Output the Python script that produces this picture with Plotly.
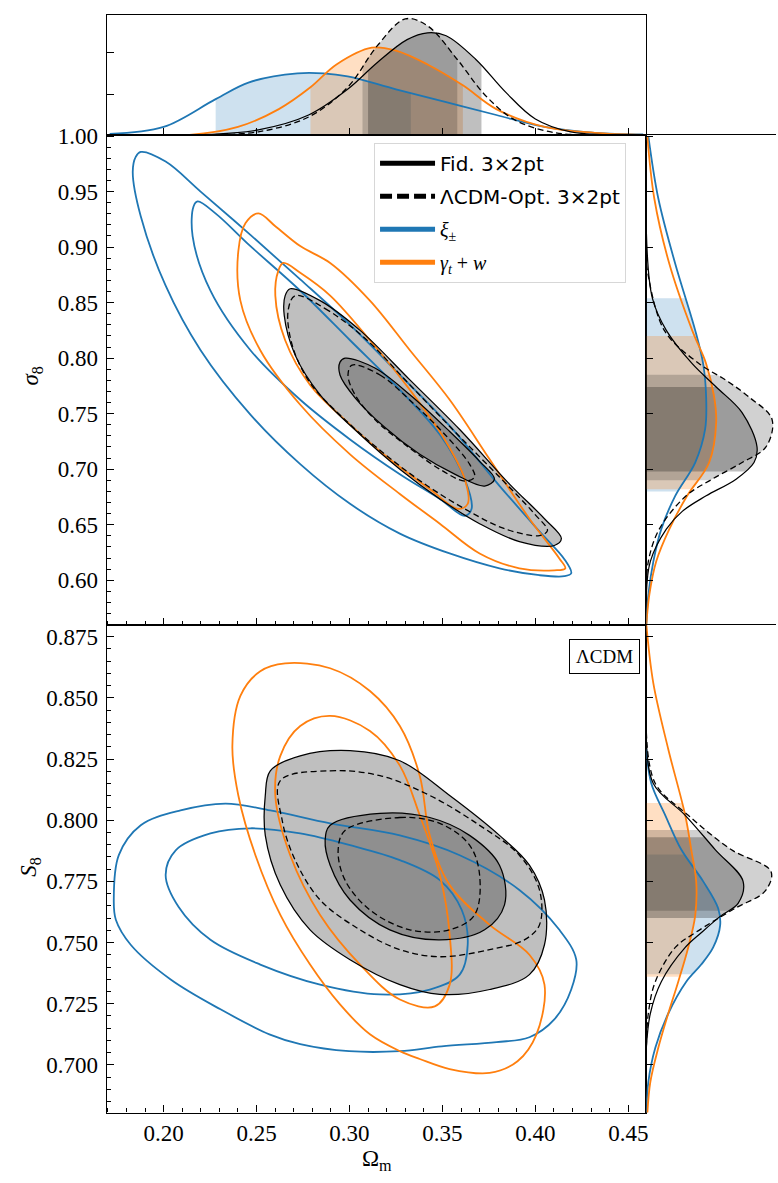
import numpy as np
import plotly.graph_objects as go

# the page shows the figure 8px lower than its own origin -> compensate vertically
OFFY = 8
W, H = 778, 1183 - OFFY

# ---------------- data ----------------
# 1D marginal of Omega_m (density relative to the highest peak)
om_blue_x = [0.171, 0.200, 0.228, 0.246, 0.272, 0.286, 0.299, 0.325, 0.352, 0.379, 0.405, 0.432, 0.458]
om_blue_y = [0.009, 0.068, 0.308, 0.453, 0.530, 0.530, 0.504, 0.393, 0.282, 0.171, 0.068, 0.017, 0.004]
om_orng_x = [0.170, 0.214, 0.240, 0.262, 0.279, 0.293, 0.312, 0.325, 0.342, 0.361, 0.379, 0.405, 0.432, 0.458]
om_orng_y = [0.000, 0.000, 0.068, 0.222, 0.410, 0.607, 0.752, 0.726, 0.607, 0.427, 0.222, 0.068, 0.017, 0.000]
om_fid_x = [0.200, 0.219, 0.251, 0.278, 0.299, 0.315, 0.331, 0.342, 0.352, 0.368, 0.384, 0.400, 0.419, 0.445]
om_fid_y = [0.000, 0.000, 0.043, 0.171, 0.393, 0.624, 0.821, 0.880, 0.855, 0.650, 0.368, 0.137, 0.026, 0.000]
om_opt_x = [0.225, 0.251, 0.278, 0.299, 0.315, 0.330, 0.342, 0.358, 0.373, 0.389, 0.411, 0.432]
om_opt_y = [0.000, 0.026, 0.154, 0.410, 0.769, 1.000, 0.940, 0.650, 0.342, 0.128, 0.017, 0.000]

# 1D marginal of sigma_8
s8m_blue_v = [1.000, 0.944, 0.885, 0.825, 0.795, 0.765, 0.736, 0.706, 0.676, 0.646, 0.617, 0.587, 0.560]
s8m_blue_p = [0.016, 0.095, 0.230, 0.389, 0.452, 0.476, 0.468, 0.389, 0.230, 0.119, 0.056, 0.016, 0.000]
s8m_orng_v = [1.000, 0.944, 0.885, 0.825, 0.795, 0.765, 0.742, 0.706, 0.676, 0.646, 0.617, 0.587, 0.560]
s8m_orng_p = [0.008, 0.063, 0.183, 0.365, 0.476, 0.540, 0.556, 0.500, 0.325, 0.183, 0.079, 0.024, 0.000]
s8m_fid_v = [0.914, 0.854, 0.825, 0.795, 0.774, 0.751, 0.720, 0.706, 0.691, 0.676, 0.662, 0.646, 0.617, 0.587]
s8m_fid_p = [0.000, 0.048, 0.159, 0.365, 0.556, 0.762, 0.881, 0.857, 0.714, 0.476, 0.286, 0.159, 0.032, 0.000]
s8m_opt_v = [0.885, 0.825, 0.795, 0.780, 0.765, 0.745, 0.720, 0.706, 0.691, 0.676, 0.646, 0.617, 0.587]
s8m_opt_p = [0.000, 0.143, 0.421, 0.635, 0.817, 1.000, 0.952, 0.762, 0.524, 0.317, 0.103, 0.016, 0.000]

# 1D marginal of S_8
S8m_orng_v = [0.880, 0.856, 0.829, 0.802, 0.788, 0.775, 0.761, 0.748, 0.734, 0.721, 0.707, 0.693, 0.680]
S8m_orng_p = [0.000, 0.056, 0.176, 0.312, 0.360, 0.400, 0.392, 0.336, 0.256, 0.176, 0.096, 0.032, 0.008]
S8m_blue_v = [0.829, 0.815, 0.802, 0.788, 0.775, 0.764, 0.757, 0.748, 0.741, 0.734, 0.721, 0.707, 0.693, 0.680]
S8m_blue_p = [0.000, 0.040, 0.152, 0.280, 0.456, 0.576, 0.592, 0.536, 0.440, 0.320, 0.176, 0.072, 0.016, 0.000]
S8m_fid_v = [0.836, 0.815, 0.802, 0.788, 0.775, 0.766, 0.761, 0.754, 0.748, 0.734, 0.721, 0.707]
S8m_fid_p = [0.000, 0.056, 0.312, 0.552, 0.776, 0.736, 0.600, 0.440, 0.312, 0.120, 0.032, 0.000]
S8m_opt_v = [0.836, 0.815, 0.802, 0.788, 0.779, 0.771, 0.764, 0.754, 0.748, 0.734, 0.721, 0.707]
S8m_opt_p = [0.000, 0.072, 0.336, 0.680, 1.000, 0.952, 0.712, 0.392, 0.232, 0.072, 0.016, 0.000]

# 68% intervals shaded under the 1D curves
om_int = {"blue": (0.228, 0.333), "orng": (0.279, 0.361), "fid": (0.310, 0.371), "opt": (0.307, 0.358)}
s8_int = {"blue": (0.680, 0.854), "orng": (0.682, 0.820), "fid": (0.698, 0.774), "opt": (0.690, 0.785)}
S8_int = {"blue": (0.737, 0.786), "orng": (0.736, 0.807), "fid": (0.760, 0.793), "opt": (0.763, 0.796)}

# 2D contours: Omega_m vs sigma_8 (outer = 95%, inner = 68%)
sig_blue_out_om = [0.1877, 0.2011, 0.2199, 0.2467, 0.2735, 0.3003, 0.3271, 0.3539, 0.3807, 0.4022, 0.4156, 0.4193,
                   0.4156, 0.4022, 0.3807, 0.3539, 0.3271, 0.3003, 0.2735, 0.2467, 0.2199, 0.2011, 0.1877, 0.1834, 0.1850]
sig_blue_out_s8 = [0.9857, 0.9770, 0.9500, 0.9110, 0.8710, 0.8300, 0.7850, 0.7390, 0.6850, 0.6440, 0.6190, 0.6063,
                   0.6036, 0.6045, 0.6107, 0.6241, 0.6420, 0.6688, 0.7045, 0.7491, 0.8071, 0.8652, 0.9277, 0.9679, 0.9813]
sig_blue_in_om = [0.2183, 0.2279, 0.2467, 0.2735, 0.3003, 0.3271, 0.3486, 0.3620, 0.3657, 0.3620, 0.3486, 0.3271,
                  0.3003, 0.2735, 0.2467, 0.2252, 0.2156, 0.2161]
sig_blue_in_s8 = [0.9411, 0.9304, 0.9009, 0.8607, 0.8161, 0.7714, 0.7312, 0.6911, 0.6643, 0.6580, 0.6732, 0.6955,
                  0.7268, 0.7625, 0.8071, 0.8607, 0.9098, 0.9366]
sig_orng_out_om = [0.2510, 0.2601, 0.2735, 0.2896, 0.3110, 0.3325, 0.3539, 0.3754, 0.3968, 0.4129, 0.4161, 0.4102,
                   0.3914, 0.3700, 0.3486, 0.3271, 0.3003, 0.2735, 0.2520, 0.2413, 0.2402, 0.2440]
sig_orng_out_s8 = [0.9304, 0.9188, 0.9009, 0.8857, 0.8518, 0.8071, 0.7625, 0.7089, 0.6554, 0.6196, 0.6107, 0.6089,
                   0.6107, 0.6241, 0.6509, 0.6777, 0.7134, 0.7580, 0.8071, 0.8518, 0.8964, 0.9214]
sig_orng_in_om = [0.2644, 0.2735, 0.2896, 0.3110, 0.3325, 0.3512, 0.3620, 0.3636, 0.3582, 0.3432, 0.3217, 0.3003,
                  0.2788, 0.2654, 0.2601, 0.2617]
sig_orng_in_s8 = [0.8857, 0.8768, 0.8563, 0.8161, 0.7714, 0.7268, 0.6911, 0.6688, 0.6643, 0.6821, 0.7089, 0.7402,
                  0.7759, 0.8161, 0.8563, 0.8786]
sig_fid_out_om = [0.2681, 0.2842, 0.3057, 0.3325, 0.3593, 0.3861, 0.4049, 0.4140, 0.4102, 0.3914, 0.3700, 0.3486,
                  0.3271, 0.3057, 0.2842, 0.2708, 0.2649, 0.2654]
sig_fid_out_s8 = [0.8625, 0.8518, 0.8250, 0.7804, 0.7357, 0.6866, 0.6554, 0.6375, 0.6313, 0.6348, 0.6509, 0.6732,
                  0.7000, 0.7312, 0.7670, 0.8027, 0.8384, 0.8563]
sig_fid_in_om = [0.2976, 0.3137, 0.3325, 0.3539, 0.3700, 0.3780, 0.3727, 0.3566, 0.3378, 0.3191, 0.3030, 0.2949, 0.2949]
sig_fid_in_s8 = [0.8000, 0.7911, 0.7670, 0.7339, 0.7071, 0.6911, 0.6848, 0.6955, 0.7134, 0.7375, 0.7643, 0.7848, 0.7964]
sig_opt_out_om = [0.2708, 0.2869, 0.3083, 0.3325, 0.3566, 0.3807, 0.3995, 0.4065, 0.4022, 0.3834, 0.3620, 0.3405,
                  0.3191, 0.2976, 0.2788, 0.2692, 0.2670]
sig_opt_out_s8 = [0.8563, 0.8446, 0.8179, 0.7759, 0.7339, 0.6929, 0.6598, 0.6446, 0.6402, 0.6464, 0.6643, 0.6866,
                  0.7134, 0.7446, 0.7777, 0.8116, 0.8429]
sig_opt_in_om = [0.3014, 0.3164, 0.3351, 0.3528, 0.3646, 0.3673, 0.3620, 0.3486, 0.3298, 0.3137, 0.3030, 0.2992]
sig_opt_in_s8 = [0.7937, 0.7848, 0.7580, 0.7286, 0.7045, 0.6929, 0.6893, 0.7000, 0.7223, 0.7446, 0.7670, 0.7848]

# 2D contours: Omega_m vs S_8
S_blue_out_om = [0.1732, 0.1759, 0.1877, 0.2091, 0.2333, 0.2574, 0.2896, 0.3271, 0.3593, 0.3914, 0.4129, 0.4220, 0.4193,
                 0.4102, 0.3968, 0.3791, 0.3496, 0.3271, 0.2998, 0.2735, 0.2569, 0.2306, 0.2038, 0.1823, 0.1743]
S_blue_out_S8 = [0.7674, 0.7857, 0.7979, 0.8040, 0.8068, 0.8040, 0.7987, 0.7938, 0.7857, 0.7715, 0.7552, 0.7430, 0.7308,
                 0.7186, 0.7113, 0.7093, 0.7076, 0.7056, 0.7056, 0.7085, 0.7125, 0.7227, 0.7349, 0.7491, 0.7593]
S_blue_in_om = [0.2011, 0.2065, 0.2252, 0.2467, 0.2735, 0.3003, 0.3271, 0.3486, 0.3604, 0.3636, 0.3593, 0.3432,
                0.3164, 0.2842, 0.2520, 0.2252, 0.2081]
S_blue_in_S8 = [0.7776, 0.7877, 0.7946, 0.7967, 0.7946, 0.7898, 0.7837, 0.7755, 0.7633, 0.7491, 0.7369, 0.7308,
                0.7288, 0.7328, 0.7410, 0.7511, 0.7645]
S_orng_out_om = [0.2654, 0.2896, 0.3110, 0.3271, 0.3378, 0.3432, 0.3539, 0.3754, 0.3968, 0.4049, 0.4006, 0.3904, 0.3754,
                 0.3539, 0.3378, 0.3271, 0.3110, 0.2949, 0.2788, 0.2628, 0.2494, 0.2402, 0.2370, 0.2413, 0.2520]
S_orng_out_S8 = [0.8641, 0.8621, 0.8528, 0.8385, 0.8182, 0.7938, 0.7735, 0.7572, 0.7450, 0.7328, 0.7125, 0.7015, 0.6967,
                 0.6983, 0.7024, 0.7056, 0.7125, 0.7247, 0.7410, 0.7613, 0.7857, 0.8101, 0.8304, 0.8508, 0.8609]
S_orng_in_om = [0.2896, 0.3110, 0.3271, 0.3378, 0.3486, 0.3539, 0.3539, 0.3459, 0.3271, 0.3057, 0.2842, 0.2681,
                0.2601, 0.2628, 0.2735]
S_orng_in_S8 = [0.8426, 0.8365, 0.8223, 0.8020, 0.7776, 0.7532, 0.7328, 0.7239, 0.7267, 0.7410, 0.7613, 0.7857,
                0.8101, 0.8263, 0.8385]
S_fid_out_om = [0.2574, 0.2735, 0.3003, 0.3271, 0.3539, 0.3807, 0.3968, 0.4049, 0.4049, 0.3968, 0.3754, 0.3486,
                0.3271, 0.3003, 0.2788, 0.2628, 0.2547, 0.2547]
S_fid_out_S8 = [0.8202, 0.8263, 0.8284, 0.8243, 0.8101, 0.7938, 0.7816, 0.7674, 0.7491, 0.7369, 0.7308, 0.7288,
                0.7328, 0.7430, 0.7552, 0.7735, 0.7938, 0.8101]
S_fid_in_om = [0.2896, 0.3164, 0.3432, 0.3646, 0.3807, 0.3834, 0.3727, 0.3486, 0.3217, 0.3003, 0.2896, 0.2869]
S_fid_in_S8 = [0.7979, 0.8028, 0.8011, 0.7938, 0.7816, 0.7654, 0.7552, 0.7511, 0.7552, 0.7674, 0.7816, 0.7918]
S_opt_out_om = [0.2628, 0.2896, 0.3164, 0.3432, 0.3700, 0.3914, 0.4022, 0.4022, 0.3941, 0.3754, 0.3486, 0.3271,
                0.3057, 0.2842, 0.2708, 0.2638]
S_opt_out_S8 = [0.8162, 0.8202, 0.8182, 0.8101, 0.7979, 0.7857, 0.7715, 0.7572, 0.7511, 0.7471, 0.7442, 0.7471,
                0.7552, 0.7674, 0.7837, 0.7999]
S_opt_in_om = [0.2976, 0.3271, 0.3486, 0.3646, 0.3700, 0.3673, 0.3539, 0.3325, 0.3110, 0.2976, 0.2939]
S_opt_in_S8 = [0.7958, 0.8011, 0.7987, 0.7898, 0.7776, 0.7613, 0.7552, 0.7552, 0.7633, 0.7755, 0.7877]

legend_names = ["Fid. 3×2pt", "ΛCDM-Opt. 3×2pt",
                '<span style="font-family:Liberation Serif"><i>ξ</i><sub>±</sub></span>',
                '<span style="font-family:Liberation Serif"><i>γ</i><sub><i>t</i></sub> + <i>w</i></span>']

# ---------------- styles ----------------
BLUE = "#1f77b4"
ORNG = "#ff7f0e"
BLK = "#000000"
FILL = {"blue": "rgba(31,119,180,0.22)", "orng": "rgba(255,127,14,0.25)",
        "fid": "rgba(0,0,0,0.25)", "opt": "rgba(0,0,0,0.18)"}
LINE = {"blue": dict(color=BLUE, width=1.8), "orng": dict(color=ORNG, width=1.8),
        "fid": dict(color=BLK, width=1.25), "opt": dict(color=BLK, width=1.3, dash="6px,3.5px")}

fig = go.Figure()


def close(a):
    return list(a) + [a[0]]


def band(v, p, lo, hi):
    v = np.asarray(v, float)
    p = np.asarray(p, float)
    o = np.argsort(v)
    v, p = v[o], p[o]
    m = (v > lo) & (v < hi)
    bv = np.concatenate([[lo], v[m], [hi]])
    bp = np.concatenate([[np.interp(lo, v, p)], p[m], [np.interp(hi, v, p)]])
    return bv, bp


# ---- top marginal (Omega_m) ----
om_sets = {"blue": (om_blue_x, om_blue_y), "orng": (om_orng_x, om_orng_y),
           "fid": (om_fid_x, om_fid_y), "opt": (om_opt_x, om_opt_y)}
for k in ["blue", "orng", "fid", "opt"]:
    bx, by = band(*om_sets[k], *om_int[k])
    fig.add_trace(go.Scatter(x=bx, y=by, mode="lines", fill="tozeroy", fillcolor=FILL[k],
                             line=dict(width=0, shape="spline"), xaxis="x", yaxis="y",
                             showlegend=False, hoverinfo="skip"))
for k in ["blue", "orng", "fid", "opt"]:
    fig.add_trace(go.Scatter(x=om_sets[k][0], y=om_sets[k][1], mode="lines",
                             line=dict(**LINE[k], shape="spline"), xaxis="x", yaxis="y",
                             showlegend=False, hoverinfo="skip"))

# ---- right marginals ----
right_sets = [
    ("x4", "y4", {"blue": (s8m_blue_v, s8m_blue_p), "orng": (s8m_orng_v, s8m_orng_p),
                  "fid": (s8m_fid_v, s8m_fid_p), "opt": (s8m_opt_v, s8m_opt_p)}, s8_int),
    ("x5", "y5", {"blue": (S8m_blue_v, S8m_blue_p), "orng": (S8m_orng_v, S8m_orng_p),
                  "fid": (S8m_fid_v, S8m_fid_p), "opt": (S8m_opt_v, S8m_opt_p)}, S8_int),
]
for xa, ya, sets, ints in right_sets:
    for k in ["blue", "orng", "fid", "opt"]:
        bv, bp = band(*sets[k], *ints[k])
        fig.add_trace(go.Scatter(x=bp, y=bv, mode="lines", fill="tozerox", fillcolor=FILL[k],
                                 line=dict(width=0, shape="spline"), xaxis=xa, yaxis=ya,
                                 showlegend=False, hoverinfo="skip"))
    for k in ["blue", "orng", "fid", "opt"]:
        fig.add_trace(go.Scatter(x=sets[k][1], y=sets[k][0], mode="lines",
                                 line=dict(**LINE[k], shape="spline"), xaxis=xa, yaxis=ya,
                                 showlegend=False, hoverinfo="skip"))

# ---- 2D panels ----
panels = [
    ("x2", "y2", {
        "fid_out": (sig_fid_out_om, sig_fid_out_s8), "fid_in": (sig_fid_in_om, sig_fid_in_s8),
        "blue_out": (sig_blue_out_om, sig_blue_out_s8), "blue_in": (sig_blue_in_om, sig_blue_in_s8),
        "orng_out": (sig_orng_out_om, sig_orng_out_s8), "orng_in": (sig_orng_in_om, sig_orng_in_s8),
        "opt_out": (sig_opt_out_om, sig_opt_out_s8), "opt_in": (sig_opt_in_om, sig_opt_in_s8)}),
    ("x3", "y3", {
        "fid_out": (S_fid_out_om, S_fid_out_S8), "fid_in": (S_fid_in_om, S_fid_in_S8),
        "blue_out": (S_blue_out_om, S_blue_out_S8), "blue_in": (S_blue_in_om, S_blue_in_S8),
        "orng_out": (S_orng_out_om, S_orng_out_S8), "orng_in": (S_orng_in_om, S_orng_in_S8),
        "opt_out": (S_opt_out_om, S_opt_out_S8), "opt_in": (S_opt_in_om, S_opt_in_S8)}),
]
for xa, ya, c in panels:
    for key in ["fid_out", "fid_in"]:
        fig.add_trace(go.Scatter(x=close(c[key][0]), y=close(c[key][1]), mode="lines", fill="toself",
                                 fillcolor="rgba(0,0,0,0.25)", line=dict(width=0, shape="spline"),
                                 xaxis=xa, yaxis=ya, showlegend=False, hoverinfo="skip"))
    for key, st in [("blue_out", "blue"), ("blue_in", "blue"), ("orng_out", "orng"), ("orng_in", "orng"),
                    ("fid_out", "fid"), ("fid_in", "fid"), ("opt_out", "opt"), ("opt_in", "opt")]:
        fig.add_trace(go.Scatter(x=close(c[key][0]), y=close(c[key][1]), mode="lines",
                                 line=dict(**LINE[st], shape="spline"),
                                 xaxis=xa, yaxis=ya, showlegend=False, hoverinfo="skip"))

# ---- legend entries ----
leg_lines = [dict(color=BLK, width=5), dict(color=BLK, width=5, dash="12px,5px"),
             dict(color=BLUE, width=5), dict(color=ORNG, width=5)]
for i, (nm, ln) in enumerate(zip(legend_names, leg_lines)):
    fig.add_trace(go.Scatter(x=[None], y=[None], mode="lines", line=ln, name=nm,
                             xaxis="x2", yaxis="y2", legendgroup=f"g{i}", showlegend=True))


# ---------------- layout ----------------
def fx(p):
    return p / W


def fy(p):
    return 1 - (p - OFFY) / H


XD = [fx(107), fx(648)]
RD = [fx(648), 1.0]
TOPD = [fy(133), fy(12)]
MIDD = [fy(628), fy(133)]
BOTD = [fy(1120), fy(628)]
TF = dict(family="Liberation Serif", size=23, color="black")
OM_RANGE = [0.1694, 0.4597]
SIG_RANGE = [0.5595, 1.0011]
S8_RANGE = [0.6805, 0.8797]

common = dict(showgrid=False, zeroline=False, showline=True, linecolor="black", linewidth=1.2,
              ticks="inside", tickcolor="black", tickwidth=1.2, ticklen=7, tickfont=TF)


def minor(d):
    return dict(ticks="inside", ticklen=4, tickcolor="black", tickwidth=1, dtick=d, tick0=0)


fig.update_layout(
    width=W, height=H, margin=dict(l=0, r=0, t=0, b=0), autosize=False,
    font=TF,
    paper_bgcolor="white", plot_bgcolor="white",
    xaxis=dict(domain=XD, anchor="y", range=OM_RANGE, dtick=0.05, tick0=0, showticklabels=False,
               mirror=True, **common),
    yaxis=dict(domain=TOPD, anchor="x", range=[0, 1.034], tickvals=[0.35, 0.71], showticklabels=False,
               mirror=True, **common),
    xaxis2=dict(domain=XD, anchor="y2", range=OM_RANGE, dtick=0.05, tick0=0, minor=minor(0.01),
                showticklabels=False, mirror=True, **common),
    yaxis2=dict(domain=MIDD, anchor="x2", range=SIG_RANGE, dtick=0.05, tick0=0, tickformat=".2f",
                minor=minor(0.01), mirror=True, ticklabelstandoff=3, **common),
    xaxis3=dict(domain=XD, anchor="y3", range=OM_RANGE, dtick=0.05, tick0=0, tickformat=".2f",
                minor=minor(0.01), mirror=True, **common),
    yaxis3=dict(domain=BOTD, anchor="x3", range=S8_RANGE, dtick=0.025, tick0=0, tickformat=".3f",
                minor=minor(0.005), mirror=True, ticklabelstandoff=3, **common),
    xaxis4=dict(domain=RD, anchor="y4", range=[0, 1.032], side="top", showgrid=False, zeroline=False,
                showline=True, linecolor="black", linewidth=1.2, ticks="", showticklabels=False),
    yaxis4=dict(domain=MIDD, anchor="x4", range=SIG_RANGE, dtick=0.05, tick0=0, showticklabels=False,
                **common),
    xaxis5=dict(domain=RD, anchor="y5", range=[0, 1.04], side="top", showgrid=False, zeroline=False,
                showline=True, linecolor="black", linewidth=1.2, ticks="", showticklabels=False),
    yaxis5=dict(domain=BOTD, anchor="x5", range=S8_RANGE, dtick=0.025, tick0=0, showticklabels=False,
                **common),
    legend=dict(x=fx(375), y=fy(141), xanchor="left", yanchor="top", bgcolor="white",
                bordercolor="rgb(215,215,215)", borderwidth=1, tracegroupgap=4,
                font=dict(family="DejaVu Sans", size=20, color="black"), itemwidth=55),
    showlegend=True,
    annotations=[
        dict(text="<i>σ</i><sub>8</sub>", x=fx(32), y=fy(376), xref="paper", yref="paper",
             xanchor="center", yanchor="middle", textangle=-90, showarrow=False, font=TF),
        dict(text="<i>S</i><sub>8</sub>", x=fx(30), y=fy(872), xref="paper", yref="paper",
             xanchor="center", yanchor="middle", textangle=-90, showarrow=False, font=TF),
        dict(text="Ω<sub>m</sub>", x=fx(378), y=fy(1168), xref="paper", yref="paper",
             xanchor="center", yanchor="middle", showarrow=False, font=TF),
        dict(text="ΛCDM", x=fx(606), y=fy(660), xref="paper", yref="paper", showarrow=False,
             xanchor="center", yanchor="middle",
             bordercolor="black", borderwidth=1, borderpad=6, bgcolor="white",
             font=dict(family="Liberation Serif", size=19, color="black")),
    ],
)

fig.write_html("out.html")
